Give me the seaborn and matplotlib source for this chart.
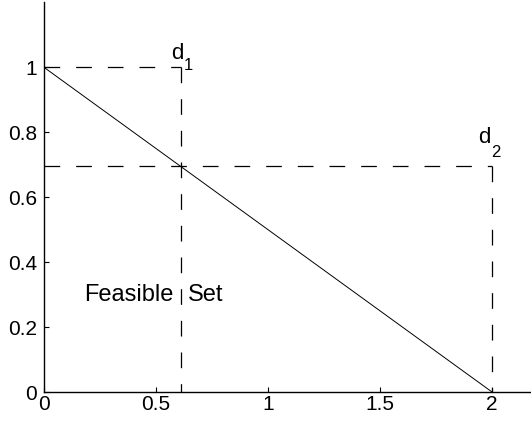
import matplotlib
matplotlib.use("Agg")
import matplotlib.pyplot as plt
import seaborn as sns
import pandas as pd

# Data
line_x = [0.0, 2.0]
line_y = [1.0, 0.0]
d1 = (0.61, 1.0)
d2 = (2.0, 0.695)
x_ticks = [0, 0.5, 1, 1.5, 2]
x_ticklabels = ["0", "0.5", "1", "1.5", "2"]
y_ticks = [0, 0.2, 0.4, 0.6, 0.8, 1]
y_ticklabels = ["0", "0.2", "0.4", "0.6", "0.8", "1"]

sns.set_theme(style="ticks")
plt.rcParams['font.family'] = ['Liberation Sans', 'DejaVu Sans']
plt.rcParams['text.color'] = 'black'
plt.rcParams['lines.scale_dashes'] = False

fig = plt.figure(figsize=(5.31, 4.24), dpi=100)
ax = fig.add_axes([44/531, 1 - 392/424, 1 - 44/531, (392 - 2.4)/424])

df_line = pd.DataFrame({"x": line_x, "y": line_y})
sns.lineplot(data=df_line, x="x", y="y", ax=ax, color="black", lw=0.7,
             sort=False, estimator=None)

dash = (0, (11.3, 11.5))
for (px, py) in (d1, d2):
    df_h = pd.DataFrame({"x": [0.0, px], "y": [py, py]})
    df_v = pd.DataFrame({"x": [px, px], "y": [py, 0.0]})
    sns.lineplot(data=df_h, x="x", y="y", ax=ax, color="black", lw=0.9,
                 linestyle=dash, sort=False, estimator=None)
    sns.lineplot(data=df_v, x="x", y="y", ax=ax, color="black", lw=0.9,
                 linestyle=dash, sort=False, estimator=None)

# labels d1, d2 (main letter + subscript)
ax.text(0.568, 1.0265, "d", fontsize=16, ha="left", va="baseline", color="black")
ax.text(0.625, 0.992, "1", fontsize=12, ha="left", va="baseline", color="black")
ax.text(1.937, 0.766, "d", fontsize=16, ha="left", va="baseline", color="black")
ax.text(1.994, 0.725, "2", fontsize=12, ha="left", va="baseline", color="black")

ax.text(0.576, 0.279, "Feasible", fontsize=17, ha="right", va="baseline", color="black")
ax.text(0.643, 0.279, "Set", fontsize=17, ha="left", va="baseline", color="black")

ax.set_xlim(0, 2.174)
ax.set_ylim(0, 1.2)
ax.set_xticks(x_ticks)
ax.set_xticklabels(x_ticklabels)
ax.set_yticks(y_ticks)
ax.set_yticklabels(y_ticklabels)
ax.set_xlabel("")
ax.set_ylabel("")
ax.tick_params(axis="both", direction="in", length=3.6, width=0.8,
               labelsize=15, color="black", labelcolor="black")
ax.tick_params(axis="x", pad=2)
ax.tick_params(axis="y", pad=5)
for s in ("top", "right"):
    ax.spines[s].set_visible(False)
for s in ("left", "bottom"):
    ax.spines[s].set_linewidth(1.0)
    ax.spines[s].set_color("black")

fig.savefig("out.png", dpi=100)
